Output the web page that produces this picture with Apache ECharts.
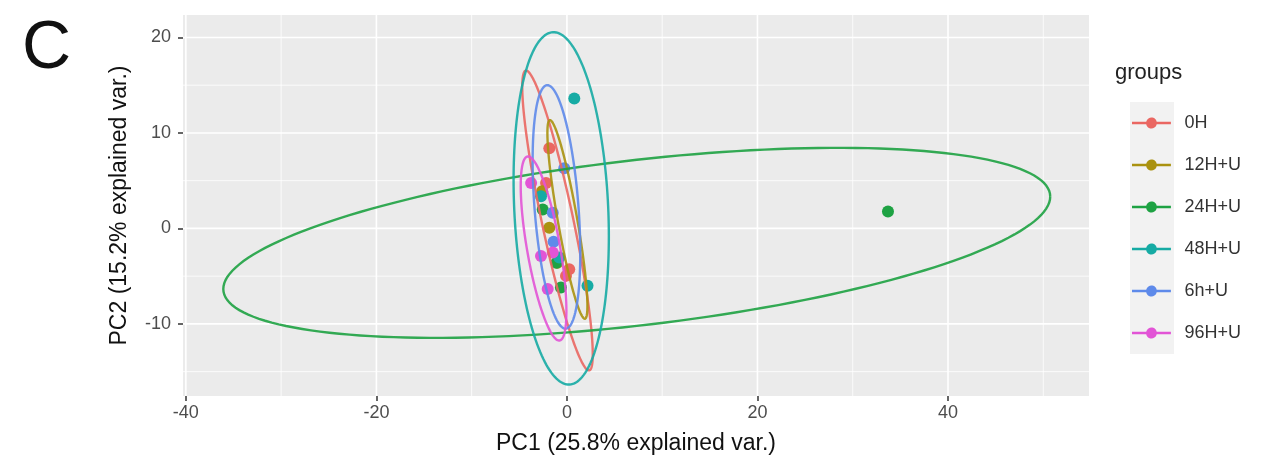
<!DOCTYPE html>
<html><head><meta charset="utf-8">
<script src="https://cdn.jsdelivr.net/npm/echarts@6/dist/echarts.min.js"></script>
<style>html,body{margin:0;padding:0;background:#fff}#c{width:1263px;height:472px}</style>
</head><body><div id="c"></div>
<script>
// ---- data ----
const groups = ['0H', '12H+U', '24H+U', '48H+U', '6h+U', '96H+U'];
const groupColors = ['#EA6762', '#AA9210', '#1EA243', '#16ABA4', '#5E8AEA', '#E254D6'];

// PCA scores [PC1, PC2] per group
const pts0H   = [[-1.85, 8.4], [-2.19, 4.76], [0.24, -4.27], [-0.1, -4.97]];
const pts12H  = [[-1.85, 0.07], [-1.0, -3.6], [-2.6, 3.9]];
const pts24H  = [[33.7, 1.77], [-2.54, 1.98], [-1.1, -3.6], [-0.63, -6.18]];
const pts48H  = [[0.77, 13.6], [-2.72, 3.37], [-0.8, -3.05], [2.16, -6.0]];
const pts6h   = [[-0.28, 6.3], [-1.49, 1.63], [-1.4, -1.4]];
const pts96H  = [[-3.76, 4.76], [-2.72, -2.88], [-1.49, -2.53], [-2.02, -6.35]];
const groupPoints = [pts0H, pts12H, pts24H, pts48H, pts6h, pts96H];

// data ellipses: [centerX, centerY, sdX, sdY, correlation]
const ell0H  = [-0.99, 0.83, 3.7, 15.7, -0.89];
const ell12H = [0.05, 0.94, 2.1, 10.4, -0.87];
const ell24H = [7.33, -1.51, 43.4, 9.95, 0.486];
const ell48H = [-0.6, 2.1, 5.0, 18.45, -0.16];
const ell6h  = [-1.1, 2.25, 2.5, 12.75, -0.38];
const ell96H = [-2.45, -2.1, 2.4, 9.64, -0.68];
const groupEllipses = [ell0H, ell12H, ell24H, ell48H, ell6h, ell96H];

// ticks
const xMajorTicks = [-40, -20, 0, 20, 40];
const xMinorTicks = [-30, -10, 10, 30, 50];
const yMajorTicks = [-10, 0, 10, 20];
const yMinorTicks = [-15, -5, 5, 15];
const xRange = [-40.3, 54.8];
const yRange = [-17.55, 22.35];

// ---- chart ----
const chart = echarts.init(document.getElementById('c'));
const FONT = '"Liberation Sans", Arial, sans-serif';
const iconPath = 'path://M0,3.8 L14.6,3.8 A5.5,5.5 0 0 1 25.4,3.8 L40,3.8 L40,6.2 L25.4,6.2 A5.5,5.5 0 0 1 14.6,6.2 L0,6.2 Z';

function gridSeries(values, dir, width) {
  return {
    type: 'custom', silent: true, z: 0, animation: false,
    data: values.map(v => dir === 'x' ? [v, 0] : [0, v]),
    encode: { x: 0, y: 1 },
    renderItem: function (params, api) {
      const cs = params.coordSys;
      if (dir === 'x') {
        const p = api.coord([api.value(0), 0]);
        return { type: 'line', shape: { x1: p[0], y1: cs.y, x2: p[0], y2: cs.y + cs.height },
          style: { stroke: '#ffffff', lineWidth: width } };
      } else {
        const p = api.coord([0, api.value(1)]);
        return { type: 'line', shape: { x1: cs.x, y1: p[1], x2: cs.x + cs.width, y2: p[1] },
          style: { stroke: '#ffffff', lineWidth: width } };
      }
    }
  };
}

const series = [
  gridSeries(xMinorTicks, 'x', 0.8),
  gridSeries(yMinorTicks, 'y', 0.8),
  gridSeries(xMajorTicks, 'x', 1.6),
  gridSeries(yMajorTicks, 'y', 1.6)
];

groups.forEach((g, i) => {
  series.push({
    name: g, type: 'scatter', z: 2, animation: false,
    symbol: 'circle', symbolSize: 12,
    itemStyle: { color: groupColors[i], opacity: 1 },
    data: groupPoints[i]
  });
});
groups.forEach((g, i) => {
  series.push({
    name: g, type: 'custom', z: 3, silent: true, animation: false,
    itemStyle: { color: groupColors[i] },
    data: [groupEllipses[i]],
    encode: { x: 0, y: 1 },
    renderItem: function (params, api) {
      const cx = api.value(0), cy = api.value(1), sx = api.value(2), sy = api.value(3), r = api.value(4);
      const q = Math.sqrt(1 - r * r);
      const pts = [];
      const N = 180;
      for (let k = 0; k <= N; k++) {
        const t = 2 * Math.PI * k / N;
        pts.push(api.coord([cx + sx * Math.cos(t), cy + sy * (r * Math.cos(t) + q * Math.sin(t))]));
      }
      return { type: 'polyline', shape: { points: pts },
        style: { stroke: groupColors[i], lineWidth: 2.4, fill: null, opacity: 0.9 } };
    }
  });
});

chart.setOption({
  animation: false,
  textStyle: { fontFamily: FONT },
  grid: { left: 183, right: 174, top: 15, bottom: 76, show: true, backgroundColor: '#EBEBEB', borderWidth: 0 },
  xAxis: {
    type: 'value', min: xRange[0], max: xRange[1],
    name: 'PC1 (25.8% explained var.)', nameLocation: 'middle', nameGap: 36,
    nameTextStyle: { fontSize: 23, color: '#111', fontFamily: FONT },
    axisLine: { show: false, onZero: false },
    axisTick: { show: true, length: 5, customValues: xMajorTicks, lineStyle: { color: '#333', width: 1.5 } },
    axisLabel: { customValues: xMajorTicks, fontSize: 18, color: '#4D4D4D', margin: 8, fontFamily: FONT },
    splitLine: { show: false }
  },
  yAxis: {
    type: 'value', min: yRange[0], max: yRange[1],
    name: 'PC2 (15.2% explained var.)', nameLocation: 'middle', nameGap: 52,
    nameTextStyle: { fontSize: 23, color: '#111', fontFamily: FONT },
    axisLine: { show: false, onZero: false },
    axisTick: { show: true, length: 5, customValues: yMajorTicks, lineStyle: { color: '#333', width: 1.5 } },
    axisLabel: { customValues: yMajorTicks, fontSize: 18, color: '#4D4D4D', margin: 12, fontFamily: FONT },
    splitLine: { show: false }
  },
  legend: {
    orient: 'vertical', left: 1132, top: 113, padding: 0,
    itemWidth: 40, itemHeight: 11, itemGap: 22, selectedMode: false,
    textStyle: { fontSize: 18, color: '#333', padding: [0, 0, 0, 8], lineHeight: 20, fontFamily: FONT },
    data: groups.map(g => ({ name: g, icon: iconPath }))
  },
  graphic: [
    { type: 'rect', left: 1130, top: 102, z: -1, shape: { width: 44, height: 252 }, style: { fill: '#F2F2F2' } },
    { type: 'text', left: 1115, top: 62, style: { text: 'groups', fontSize: 22, fill: '#222', fontFamily: FONT } },
    { type: 'text', left: 22, top: 15, style: { text: 'C', fontSize: 68, fill: '#111', fontFamily: FONT } }
  ],
  series: series
});
</script>
</body></html>
